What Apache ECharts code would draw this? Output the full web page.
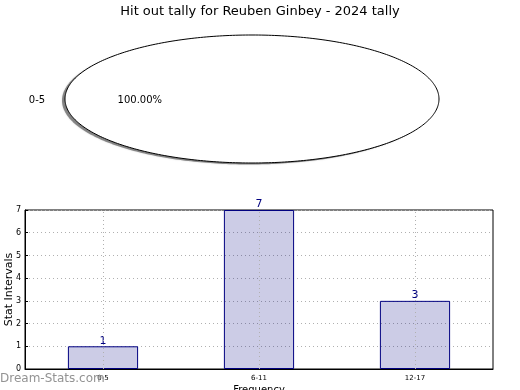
<!DOCTYPE html>
<html><head><meta charset="utf-8">
<script src="https://cdn.jsdelivr.net/npm/echarts@6/dist/echarts.min.js"></script>
<style>html,body{margin:0;padding:0;background:#fff}#c{width:520px;height:390px}</style>
</head><body><div id="c"></div>
<script>
const title = 'Hit out tally for Reuben Ginbey - 2024 tally';
const pieCategories = ['0-5'];
const pieValues = [1];
const categories = ['0-5', '6-11', '12-17'];
const values = [1, 7, 3];
const yTicks = [0, 1, 2, 3, 4, 5, 6, 7];

const chart = echarts.init(document.getElementById('c'), null, {renderer: 'canvas'});
const total = pieValues.reduce((a, b) => a + b, 0);
const cx = 252, cy = 99, rx = 187, ry = 64;
const font = 'DejaVu Sans';
const gridLine = {color: '#b0b0b0', type: [1, 3], width: 1};

function wedgePoints(ox, oy, a0, a1) {
  const pts = [];
  const full = Math.abs(a1 - a0) >= 2 * Math.PI - 1e-9;
  const n = 360;
  for (let i = 0; i <= n; i++) {
    const a = a0 + (a1 - a0) * i / n;
    pts.push([ox + Math.cos(a) * rx, oy - Math.sin(a) * ry]);
  }
  if (!full) pts.push([ox, oy]);
  return pts;
}

chart.setOption({
  animation: false,
  backgroundColor: '#fff',
  title: {text: title, left: 'center', top: 0, textStyle: {fontFamily: font, fontSize: 13, fontWeight: 'normal', color: '#000'}},
  graphic: [{type: 'text', left: 0, top: 373, z: 100, style: {text: 'Dream-Stats.com', fontFamily: font, fontSize: 12, fontWeight: 'normal', fill: '#939393'}}],
  grid: {left: 25, right: 27, top: 210, bottom: 21, containLabel: false, outerBoundsMode: 'none',
         show: true, borderColor: '#000', borderWidth: 1, backgroundColor: 'transparent'},
  xAxis: {
    type: 'category', data: categories,
    name: 'Frequency', nameLocation: 'middle', nameGap: 16, nameMoveOverlap: false,
    nameTextStyle: {fontFamily: font, fontSize: 10, color: '#000'},
    axisLine: {show: true, lineStyle: {color: '#000', width: 1}},
    axisTick: {show: false},
    axisLabel: {fontFamily: font, fontSize: 7, color: '#000', margin: 6},
    splitLine: {show: false}
  },
  yAxis: {
    type: 'value', min: 0, max: 7, interval: 1,
    name: 'Stat Intervals', nameLocation: 'middle', nameGap: 10, nameRotate: 90, nameMoveOverlap: false,
    nameTextStyle: {fontFamily: font, fontSize: 11, color: '#000'},
    axisLine: {show: true, lineStyle: {color: '#000'}},
    axisTick: {show: true, inside: true, length: 3, lineStyle: {color: '#000'}},
    axisLabel: {fontFamily: font, fontSize: 8, color: '#000', margin: 4, formatter: v => yTicks.includes(v) ? String(v) : ''},
    splitLine: {show: true, lineStyle: gridLine}
  },
  series: [
    {
      type: 'bar', data: values, barWidth: '45%',
      itemStyle: {color: 'rgba(0,0,128,0.2)', borderColor: '#000080', borderWidth: 1},
      label: {show: true, position: 'top', distance: 0, fontFamily: font, fontSize: 11, color: '#000080'},
      markLine: {silent: true, symbol: 'none', label: {show: false}, lineStyle: gridLine,
                 data: categories.map(c => ({xAxis: c}))}
    },
    {
      type: 'custom', coordinateSystem: 'none',
      data: pieValues.map((v, i) => ({value: v, name: pieCategories[i]})),
      renderItem: function (params, api) {
        let start = 0;
        for (let k = 0; k < params.dataIndex; k++) start += pieValues[k];
        const v = pieValues[params.dataIndex];
        const a0 = start / total * 2 * Math.PI;
        const a1 = a0 + v / total * 2 * Math.PI;
        const pct = (v / total * 100).toFixed(2) + '%';
        const mid = (a0 + a1) / 2;
        const children = [
          {type: 'polygon', shape: {points: wedgePoints(cx - 3, cy + 1.5, a0, a1)},
           style: {fill: 'rgba(70,70,70,0.55)', shadowBlur: 1.5, shadowColor: 'rgba(70,70,70,0.5)'}},
          {type: 'polygon', shape: {points: wedgePoints(cx, cy, a0, a1)},
           style: {fill: '#fff', stroke: '#000', lineWidth: 1}},
          {type: 'text', x: cx + Math.cos(mid) * rx * 1.15, y: cy - Math.sin(mid) * ry * 1.15 + 1,
           style: {text: pieCategories[params.dataIndex], fontFamily: font, fontSize: 10, fill: '#000', align: 'center', verticalAlign: 'middle'}},
          {type: 'text', x: cx + Math.cos(mid) * rx * 0.6, y: cy - Math.sin(mid) * ry * 0.6 + 1,
           style: {text: pct, fontFamily: font, fontSize: 10, fill: '#000', align: 'center', verticalAlign: 'middle'}}
        ];
        return {type: 'group', children: children};
      }
    }
  ]
});
</script></body></html>
